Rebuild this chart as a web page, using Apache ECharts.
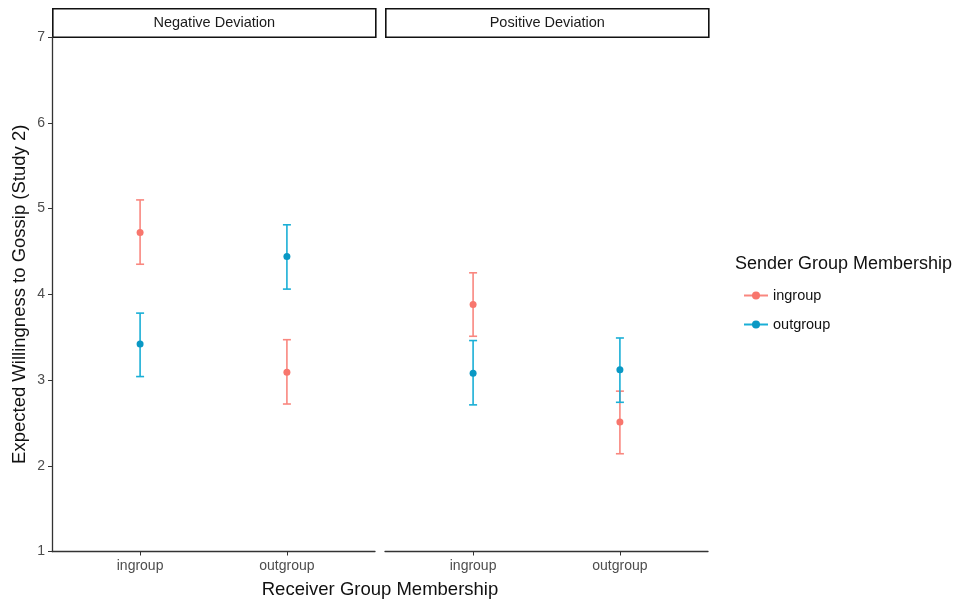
<!DOCTYPE html>
<html>
<head>
<meta charset="utf-8">
<script src="https://cdn.jsdelivr.net/npm/echarts@6/dist/echarts.min.js"></script>
<style>html,body{margin:0;padding:0;background:#fff;}#c{width:960px;height:603px;}</style>
</head>
<body>
<div id="c"></div>
<script>
// ---- data ----
const categories = ['ingroup', 'outgroup'];
const panels = ['Negative Deviation', 'Positive Deviation'];
const yTicks = [1, 2, 3, 4, 5, 6, 7];
// sender = ingroup
const negIngroupMean = [4.72, 3.09];
const negIngroupLow  = [4.35, 2.72];
const negIngroupHigh = [5.10, 3.47];
const posIngroupMean = [3.88, 2.51];
const posIngroupLow  = [3.51, 2.14];
const posIngroupHigh = [4.25, 2.87];
// sender = outgroup
const negOutgroupMean = [3.42, 4.44];
const negOutgroupLow  = [3.04, 4.06];
const negOutgroupHigh = [3.78, 4.81];
const posOutgroupMean = [3.08, 3.12];
const posOutgroupLow  = [2.71, 2.74];
const posOutgroupHigh = [3.46, 3.49];

const RED_LINE = '#F9877F', RED_PT = '#F8766D';
const BLUE_LINE = '#1AAFD6', BLUE_PT = '#0A98C4';
const font = 'Liberation Sans, Arial, sans-serif';

function errData(low, high) { return categories.map((c, i) => [i + 1, low[i], high[i]]); }
function ptData(mean) { return categories.map((c, i) => [i + 1, mean[i]]); }

function errSeries(name, gi, low, high, color) {
  return {
    type: 'custom', name: name, xAxisIndex: gi, yAxisIndex: gi,
    data: errData(low, high), z: 2,
    renderItem: function (params, api) {
      const x = api.value(0);
      const p1 = api.coord([x, api.value(1)]);
      const p2 = api.coord([x, api.value(2)]);
      const hw = 4;
      const st = { stroke: color, lineWidth: 1.6 };
      return { type: 'group', children: [
        { type: 'line', shape: { x1: p1[0], y1: p1[1], x2: p2[0], y2: p2[1] }, style: st },
        { type: 'line', shape: { x1: p1[0] - hw, y1: p1[1], x2: p1[0] + hw, y2: p1[1] }, style: st },
        { type: 'line', shape: { x1: p2[0] - hw, y1: p2[1], x2: p2[0] + hw, y2: p2[1] }, style: st }
      ]};
    }
  };
}
function ptSeries(name, gi, mean, color) {
  return { type: 'scatter', name: name, xAxisIndex: gi, yAxisIndex: gi, data: ptData(mean),
    symbol: 'circle', symbolSize: 7, itemStyle: { color: color, opacity: 1 }, z: 3, silent: true };
}

const grids = [
  { left: 52, right: 585, top: 37, bottom: 51.5 },
  { left: 385, right: 252, top: 37, bottom: 51.5 }
];
function xAxis(gi) {
  return { type: 'value', gridIndex: gi, min: 0.4, max: 2.6, splitLine: { show: false },
    axisLine: { show: true, onZero: false, lineStyle: { color: '#333', width: 1.3 } },
    axisTick: { show: true, customValues: [1, 2], length: 4, lineStyle: { color: '#333' } },
    axisLabel: { show: true, customValues: [1, 2], color: '#4D4D4D', fontSize: 14, fontFamily: font, margin: 8,
      formatter: v => categories[Math.round(v) - 1] || '' } };
}
function yAxis(gi) {
  const show = gi === 0;
  return { type: 'value', gridIndex: gi, min: 1, max: 7, interval: 1, splitLine: { show: false },
    axisLine: { show: show, lineStyle: { color: '#333', width: 1.3 } },
    axisTick: { show: show, length: 4, lineStyle: { color: '#333' } },
    axisLabel: { show: show, color: '#4D4D4D', fontSize: 14, fontFamily: font, margin: 7,
      formatter: v => yTicks.indexOf(v) >= 0 ? String(v) : '' },
    name: show ? 'Expected Willingness to Gossip (Study 2)' : '', nameLocation: 'middle', nameGap: 23,
    nameTextStyle: { color: '#111', fontSize: 18.5, fontFamily: font } };
}

const option = {
  backgroundColor: '#fff',
  animation: false,
  title: [
    { text: 'Sender Group Membership', left: 730, top: 250, textStyle: { color: '#111', fontSize: 18, fontWeight: 'normal', fontFamily: font } },
    { text: 'Receiver Group Membership', left: 375, top: 575, textAlign: 'center', textStyle: { color: '#111', fontSize: 18.5, fontWeight: 'normal', fontFamily: font } }
  ],
  legend: { orient: 'vertical', left: 738, top: 283, itemWidth: 24, itemHeight: 10, itemGap: 14,
    data: ['ingroup', 'outgroup'], selectedMode: false,
    textStyle: { color: '#111', fontSize: 14.5, fontFamily: font } },
  grid: grids,
  xAxis: [xAxis(0), xAxis(1)],
  yAxis: [yAxis(0), yAxis(1)],
  graphic: panels.map((p, i) => ({
    type: 'group', left: i === 0 ? 52 : 385, top: 8,
    children: [
      { type: 'rect', shape: { x: 0, y: 0, width: 323, height: 28.5 }, style: { fill: '#fff', stroke: '#111', lineWidth: 1.6 } },
      { type: 'text', x: 161.5, y: 14.5, style: { text: p, fill: '#1A1A1A', font: '14.5px ' + font, textAlign: 'center', textVerticalAlign: 'middle' } }
    ]
  })),
  series: [
    { type: 'line', name: 'ingroup', xAxisIndex: 0, yAxisIndex: 0, data: [], symbol: 'circle', symbolSize: 6,
      itemStyle: { color: RED_PT }, lineStyle: { color: RED_LINE, width: 1.6 } },
    { type: 'line', name: 'outgroup', xAxisIndex: 0, yAxisIndex: 0, data: [], symbol: 'circle', symbolSize: 6,
      itemStyle: { color: BLUE_PT }, lineStyle: { color: BLUE_LINE, width: 1.6 } },
    errSeries('ingroup', 0, negIngroupLow, negIngroupHigh, RED_LINE),
    errSeries('outgroup', 0, negOutgroupLow, negOutgroupHigh, BLUE_LINE),
    errSeries('ingroup', 1, posIngroupLow, posIngroupHigh, RED_LINE),
    errSeries('outgroup', 1, posOutgroupLow, posOutgroupHigh, BLUE_LINE),
    ptSeries('ingroup', 0, negIngroupMean, RED_PT),
    ptSeries('outgroup', 0, negOutgroupMean, BLUE_PT),
    ptSeries('ingroup', 1, posIngroupMean, RED_PT),
    ptSeries('outgroup', 1, posOutgroupMean, BLUE_PT)
  ]
};
echarts.init(document.getElementById('c'), null, { renderer: 'canvas' }).setOption(option);
</script>
</body>
</html>
